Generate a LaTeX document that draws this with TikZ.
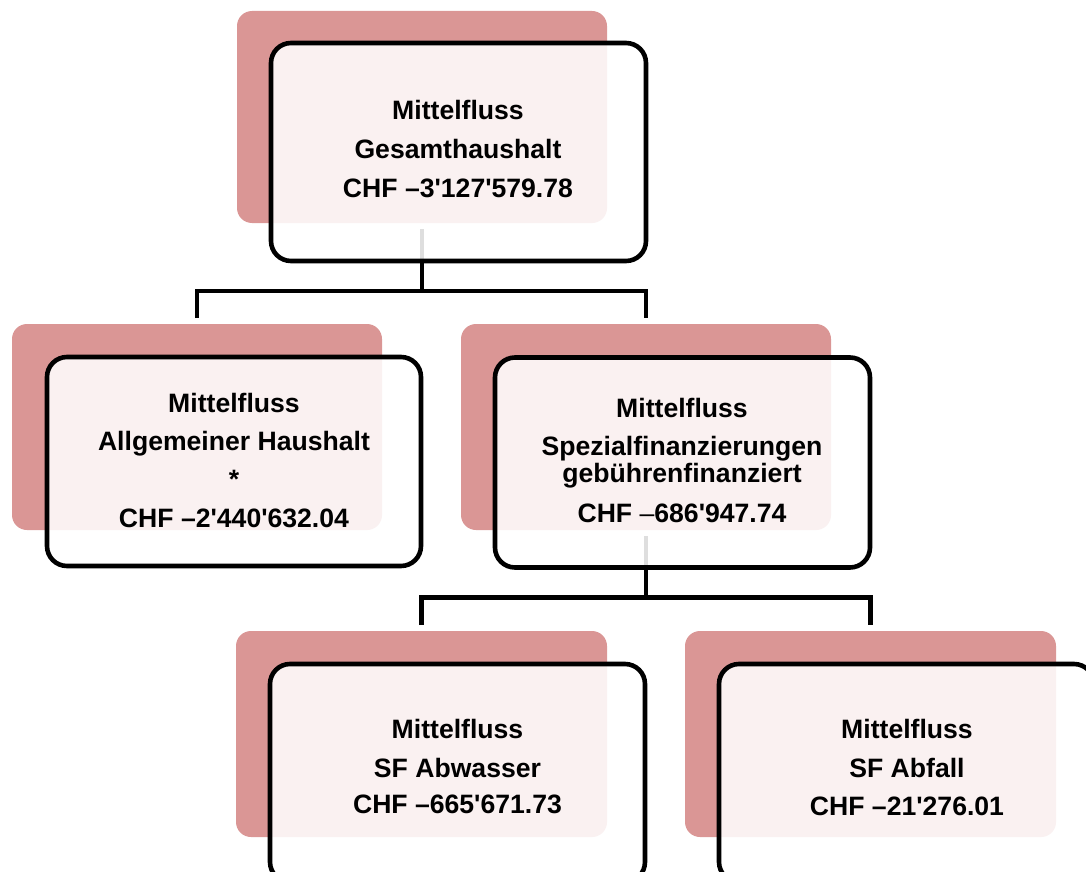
\documentclass[tikz,border=0pt]{standalone}
\usepackage{fontspec}
\newfontfamily\arialf{Liberation Sans}
\definecolor{pinkc}{RGB}{218,150,149}
\begin{document}
\begin{tikzpicture}[x=1pt,y=-1pt,
  back/.style={fill=pinkc, rounded corners=15pt, inner sep=0pt, outer sep=0pt, minimum width=370pt, minimum height=206pt},
  front/.style={draw=black, line width=4.6pt, fill=white, fill opacity=0.87, rounded corners=20pt, inner sep=0pt, outer sep=0pt, minimum width=375pt, minimum height=218pt},
  conn/.style={draw=black, line width=4.6pt},
  txt/.style={anchor=base, inner sep=0pt, outer sep=0pt, font=\arialf\bfseries\fontsize{26.6}{32}\selectfont}]
\useasboundingbox (0,0) rectangle (1086,872);
\clip (0,0) rectangle (1086,872);
% back boxes
\node[back, minimum height=212pt] (b1) at (422,117) {};
\node[back] (b2) at (197,427) {};
\node[back] (b3) at (646,427) {};
\node[back, minimum width=371pt] (b4) at (421.5,734) {};
\node[back, minimum width=371pt] (b5) at (870.5,734) {};
% connectors
\coordinate (j1) at (422,291);
\coordinate (j2) at (646,597.5);
\draw[conn] ([yshift=-6pt]b1.south) -- (j1);
\draw[conn] ([yshift=6pt]b2.north) |- (j1) -| ([yshift=6pt]b3.north);
\draw[conn] ([yshift=-6pt]b3.south) -- (j2);
\draw[conn] ([yshift=6pt]b4.north) |- (j2) -| ([yshift=6pt]b5.north);
% front boxes
\node[front] (f1) at (458.5,152) {};
\node[front, minimum width=374pt, minimum height=209pt] (f2) at (234,461.5) {};
\node[front, minimum height=210pt] (f3) at (682.5,462.5) {};
\node[front] (f4) at (457.5,773) {};
\node[front] (f5) at (906.5,773) {};
% texts
\node[txt] (t1a) at (458,120) {Mittelfluss};
\node[txt] (t1b) at (458,158) {Gesamthaushalt};
\node[txt] (t1c) at (458,197) {CHF –3'127'579.78};
\node[txt] (t2a) at (234,412) {Mittelfluss};
\node[txt] (t2b) at (234,450) {Allgemeiner Haushalt};
\node[txt] (t2c) at (234,488) {*};
\node[txt] (t2d) at (234,527) {CHF –2'440'632.04};
\node[txt] (t3a) at (682,417) {Mittelfluss};
\node[txt] (t3b) at (682,455) {Spezialfinanzierungen};
\node[txt] (t3c) at (682,482) {gebührenfinanziert};
\node[txt] (t3d) at (682,522) {CHF {\mdseries –}686'947.74};
\node[txt] (t4a) at (457.5,738) {Mittelfluss};
\node[txt] (t4b) at (457.5,777) {SF Abwasser};
\node[txt] (t4c) at (457.5,813) {CHF –665'671.73};
\node[txt] (t5a) at (907,738) {Mittelfluss};
\node[txt] (t5b) at (907,777) {SF Abfall};
\node[txt] (t5c) at (907,815) {CHF –21'276.01};
\end{tikzpicture}
\end{document}
